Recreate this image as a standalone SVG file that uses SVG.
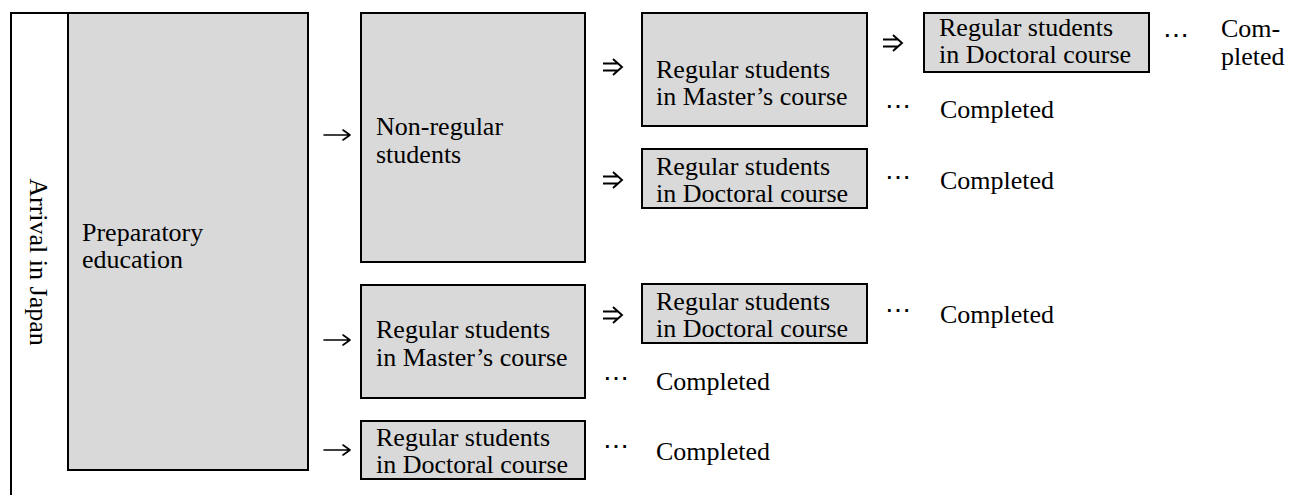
<svg xmlns="http://www.w3.org/2000/svg" width="1297" height="495" viewBox="0 0 1297 495">
<style>
.box{fill:#d9d9d9;stroke:#000;stroke-width:2}
.t{font-family:"Liberation Serif","Times New Roman",serif;font-size:26px;fill:#000}
.dots{font-family:"Liberation Serif",serif;font-size:26px;fill:#000}
.arr{fill:none;stroke:#000;stroke-width:1.6;stroke-linecap:round;stroke-linejoin:round}
.darr{fill:none;stroke:#000;stroke-width:1.9;stroke-linecap:butt;stroke-linejoin:miter}
</style>
<rect width="1297" height="495" fill="#fff"/>
<g id="arrival">
<path d="M11,495 V13 H68" fill="none" stroke="#000" stroke-width="2"/>
<text class="t" transform="translate(30,262) rotate(90)" text-anchor="middle">Arrival in Japan</text>
</g>
<g id="prep">
<rect class="box" x="68" y="13" width="240" height="457"/>
<text class="t" x="82" y="241">Preparatory</text>
<text class="t" x="82" y="268">education</text>
</g>
<g id="nonregular">
<rect class="box" x="361" y="13" width="224" height="249"/>
<text class="t" x="376" y="135">Non-regular</text>
<text class="t" x="376" y="163">students</text>
</g>
<g id="master1">
<rect class="box" x="642" y="13" width="225" height="113"/>
<text class="t" x="656" y="78">Regular students</text>
<text class="t" x="656" y="105">in Master’s course</text>
</g>
<g id="doctoral1">
<rect class="box" x="924" y="13" width="225" height="59"/>
<text class="t" x="939" y="36">Regular students</text>
<text class="t" x="939" y="63">in Doctoral course</text>
</g>
<g id="completed1">
<text class="dots" x="1163" y="44">⋯</text>
<text class="t" x="1221" y="37">Com-</text>
<text class="t" x="1221" y="65">pleted</text>
</g>
<g id="completed2">
<text class="dots" x="885" y="115">⋯</text>
<text class="t" x="940" y="118">Completed</text>
</g>
<g id="doctoral2">
<rect class="box" x="642" y="149" width="225" height="59"/>
<text class="t" x="656" y="175">Regular students</text>
<text class="t" x="656" y="202">in Doctoral course</text>
</g>
<g id="completed3">
<text class="dots" x="885" y="186">⋯</text>
<text class="t" x="940" y="189">Completed</text>
</g>
<g id="master2">
<rect class="box" x="361" y="285" width="224" height="113"/>
<text class="t" x="376" y="338">Regular students</text>
<text class="t" x="376" y="366">in Master’s course</text>
</g>
<g id="doctoral3">
<rect class="box" x="642" y="284" width="225" height="59"/>
<text class="t" x="656" y="310">Regular students</text>
<text class="t" x="656" y="337">in Doctoral course</text>
</g>
<g id="completed4">
<text class="dots" x="885" y="319">⋯</text>
<text class="t" x="940" y="323">Completed</text>
</g>
<g id="completed5">
<text class="dots" x="603" y="387">⋯</text>
<text class="t" x="656" y="390">Completed</text>
</g>
<g id="doctoral4">
<rect class="box" x="361" y="421" width="224" height="58"/>
<text class="t" x="376" y="446">Regular students</text>
<text class="t" x="376" y="473">in Doctoral course</text>
</g>
<g id="completed6">
<text class="dots" x="603" y="455">⋯</text>
<text class="t" x="656" y="460">Completed</text>
</g>
<g id="connectors">
<path class="arr" d="M324,135 H349 M343,130 L350,135 L343,140"/>
<path class="arr" d="M324,340 H349 M343,335 L350,340 L343,345"/>
<path class="arr" d="M324,450 H349 M343,445 L350,450 L343,455"/>
<path class="darr" d="M603,63.5 H618 M603,70.5 H618 M613,59 L622,67 L613,75"/>
<path class="darr" d="M603,176.5 H618 M603,183.5 H618 M613,172 L622,180 L613,188"/>
<path class="darr" d="M603,311.5 H618 M603,318.5 H618 M613,307 L622,315 L613,323"/>
<path class="darr" d="M883,39.5 H898 M883,46.5 H898 M893,35 L902,43 L893,51"/>
</g>
</svg>
